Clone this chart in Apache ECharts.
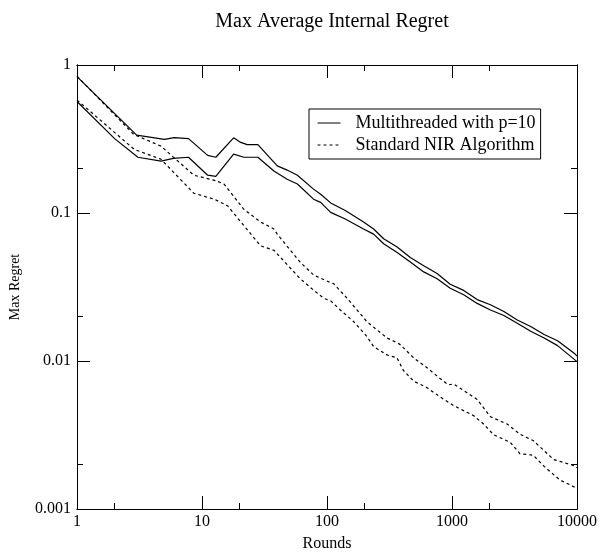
<!DOCTYPE html>
<html>
<head>
<meta charset="utf-8">
<script src="https://cdn.jsdelivr.net/npm/echarts@6/dist/echarts.min.js"></script>
<style>
html, body { margin: 0; padding: 0; background: #fff; }
#chart { width: 601px; height: 557px; }
</style>
</head>
<body>
<div id="chart"></div>
<script>
// values, [rounds, max regret]
var multiUpper = [[1,0.835],[3,0.336],[5,0.314],[6,0.323],[7.8,0.318],[11.1,0.245],[12.9,0.238],[17.9,0.322],[20.4,0.30],[23,0.29],[28,0.29],[40,0.208],[48,0.195],[58,0.18],[78,0.145],[89,0.134],[107,0.117],[140,0.104],[196,0.087],[236,0.078],[284,0.067],[364,0.059],[464,0.050],[594,0.044],[760,0.039],[968,0.033],[1240,0.030],[1590,0.026],[2030,0.024],[2600,0.0216],[3330,0.0189],[4260,0.0171],[5460,0.0151],[6990,0.0137],[9500,0.0113],[10000,0.0108]];
var multiLower = [[1,0.567],[2,0.318],[3.07,0.238],[4.7,0.224],[5.9,0.234],[7.8,0.238],[11.1,0.18],[12.9,0.177],[17.9,0.25],[21.6,0.238],[28,0.238],[37.6,0.192],[48,0.169],[58,0.157],[78,0.124],[89,0.118],[107,0.101],[140,0.091],[196,0.078],[236,0.072],[284,0.062],[364,0.054],[464,0.0467],[594,0.040],[760,0.036],[968,0.031],[1240,0.028],[1590,0.0245],[2030,0.0221],[2600,0.0203],[3330,0.018],[4260,0.0159],[5460,0.0143],[6990,0.0127],[10000,0.0099]];
var nirUpper = [[1,0.84],[2.85,0.339],[4.7,0.283],[8.6,0.18],[13,0.165],[15,0.157],[21.6,0.106],[29.4,0.087],[37.6,0.078],[40,0.072],[61,0.0465],[78.5,0.038],[107,0.0338],[113,0.0333],[145,0.0265],[209,0.0184],[302,0.0143],[363,0.0133],[385,0.0129],[494,0.0105],[632,0.009],[760,0.0079],[935,0.0069],[1030,0.0070],[1320,0.0061],[1590,0.0055],[2030,0.0042],[2760,0.00375],[3500,0.0032],[4460,0.0029],[6500,0.00216],[9500,0.00196],[10000,0.0019]];
var nirLower = [[1,0.58],[2.87,0.269],[4.69,0.231],[8.6,0.136],[12.5,0.124],[16,0.112],[29.4,0.060],[37.6,0.056],[61,0.036],[78.5,0.030],[94.5,0.0265],[107,0.0255],[128,0.0221],[164,0.0184],[209,0.0146],[236,0.0125],[302,0.011],[363,0.0105],[410,0.0086],[494,0.0073],[632,0.0066],[808,0.0057],[1030,0.005],[1490,0.00427],[1790,0.00375],[2150,0.00318],[2930,0.00282],[3500,0.00236],[4460,0.00231],[5460,0.00194],[7300,0.00157],[9500,0.00141],[10000,0.00136]];

var xMinorTicks = [2, 20, 200, 2000];
var yMinorTicks = [0.002, 0.02, 0.2];
var seriesNames = ['Multithreaded with p=10', 'Standard NIR Algorithm'];

var font = 'Liberation Serif';
var myChart = echarts.init(document.getElementById('chart'));

function fmt(v) { return String(+(+v).toPrecision(1)); }

function xAx(pos, minor, labels) {
  return {
    type: 'log', logBase: 10, min: 1, max: 10000, position: pos,
    axisLine: { show: true, lineStyle: { color: '#000', width: 1 } },
    axisTick: minor
      ? { show: true, inside: true, length: 6, customValues: xMinorTicks, lineStyle: { color: '#000' } }
      : { show: true, inside: true, length: 13, lineStyle: { color: '#000' } },
    minorTick: { show: false },
    splitLine: { show: false },
    axisLabel: { show: labels, margin: 5, fontFamily: font, fontSize: 16, color: '#000', formatter: fmt, showMinLabel: true, showMaxLabel: true },
    name: labels ? 'Rounds' : '', nameLocation: 'middle', nameGap: 27,
    nameTextStyle: { fontFamily: font, fontSize: 16, color: '#000' }
  };
}
function yAx(pos, minor, labels) {
  return {
    type: 'log', logBase: 10, min: 0.001, max: 1, position: pos,
    axisLine: { show: true, lineStyle: { color: '#000', width: 1 } },
    axisTick: minor
      ? { show: true, inside: true, length: 6, customValues: yMinorTicks, lineStyle: { color: '#000' } }
      : { show: true, inside: true, length: 13, lineStyle: { color: '#000' } },
    minorTick: { show: false },
    splitLine: { show: false },
    axisLabel: { show: labels, margin: 6, fontFamily: font, fontSize: 16, color: '#000', formatter: fmt, showMinLabel: true, showMaxLabel: true },
    name: labels ? 'Max Regret' : '', nameLocation: 'middle', nameGap: 55,
    nameTextStyle: { fontFamily: font, fontSize: 14, color: '#000' }
  };
}

function line(name, data, dashed) {
  return {
    name: name, type: 'line', data: data, symbol: 'none',
    xAxisIndex: 0, yAxisIndex: 0,
    color: '#000',
    lineStyle: { color: '#000', width: 1.2, type: dashed ? [3, 3] : 'solid' }
  };
}

myChart.setOption({
  animation: false,
  backgroundColor: '#fff',
  title: {
    text: 'Max Average Internal Regret',
    left: 327, top: 7, textAlign: 'center',
    textStyle: { fontFamily: font, fontSize: 20, fontWeight: 'normal', color: '#000' }
  },
  grid: { left: 76, right: 24, top: 65, bottom: 45 },
  legend: {
    data: seriesNames,
    orient: 'vertical', left: 309, top: 109,
    padding: [5, 5, 5, 8],
    itemWidth: 23, itemHeight: 14, itemGap: 4,
    borderColor: '#000', borderWidth: 1,
    backgroundColor: '#fff',
    itemStyle: { opacity: 0 },
    lineStyle: { width: 1 },
    textStyle: { fontFamily: font, fontSize: 18, color: '#000', padding: [0, 0, 0, 10] }
  },
  xAxis: [xAx('bottom', false, true), xAx('bottom', true, false), xAx('top', false, false), xAx('top', true, false)],
  yAxis: [yAx('left', false, true), yAx('left', true, false), yAx('right', false, false), yAx('right', true, false)],
  series: [
    line(seriesNames[0], multiUpper, false),
    line(seriesNames[0], multiLower, false),
    line(seriesNames[1], nirUpper, true),
    line(seriesNames[1], nirLower, true)
  ]
});
</script>
</body>
</html>
